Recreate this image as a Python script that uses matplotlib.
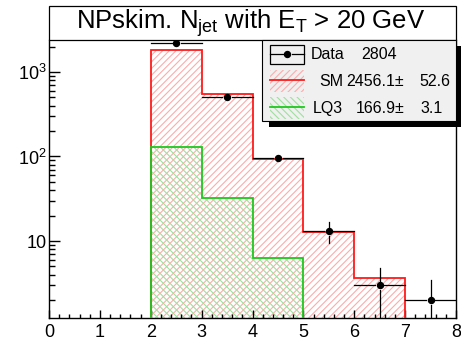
import numpy as np
import matplotlib
matplotlib.use("Agg")
import matplotlib.pyplot as plt
from matplotlib.patches import Rectangle
from matplotlib.ticker import FixedLocator, LogLocator, NullFormatter

plt.rcParams['font.family'] = 'Liberation Sans'
plt.rcParams['mathtext.fontset'] = 'custom'
plt.rcParams['mathtext.rm'] = 'Liberation Sans'
plt.rcParams['mathtext.it'] = 'Liberation Sans'
plt.rcParams['hatch.linewidth'] = 0.8

# data
edges = np.arange(0, 9)
data = np.array([0, 0, 2185, 506, 95, 13, 3, 2])
sm = np.array([0, 0, 1800, 545, 94, 12.8, 3.6, 0])
lq3 = np.array([0, 0, 128, 32.7, 6.3, 0, 0, 0])

data_total = 2804
sm_total, sm_err = 2456.1, 52.6
lq3_total, lq3_err = 166.9, 3.1

W, H = 461, 343
fig = plt.figure(figsize=(W / 100, H / 100), dpi=100)
fig.patch.set_facecolor('white')

def fx(x):
    return x / W
def fy(y):
    return 1 - y / H

ax = fig.add_axes([fx(49), fy(318), (456 - 49) / W, (318 - 40) / H])
ax.set_yscale('log')
ax.set_xlim(0, 8)
ax.set_ylim(1.227, 2391)

red, green = '#ff1a1a', '#1ec81e'
pink, lgreen = '#ffaaaa', '#9fe09f'
tiny = 1e-3

def hist_fill(vals, col, hatch):
    v = np.where(vals > 0, vals, tiny)
    ax.fill_between(edges, np.append(v, v[-1]), tiny, step='post',
                    facecolor='none', edgecolor=col, hatch=hatch, linewidth=0, zorder=1)

def hist_line(vals, col):
    v = np.where(vals > 0, vals, tiny)
    ax.stairs(v, edges, baseline=tiny, color=col, lw=1.3, zorder=3)

hist_fill(sm, pink, '/////')
hist_fill(lq3, lgreen, '\\\\\\\\\\')
hist_line(sm, red)
hist_line(lq3, green)

# data points with gapped error bars
centers = (edges[:-1] + edges[1:]) / 2
gx, gy = 0.09, 1.13
for xc, yv in zip(centers, data):
    if yv <= 0:
        continue
    err = np.sqrt(yv)
    ax.plot([xc - 0.5, xc - gx], [yv, yv], color='black', lw=0.9, zorder=4)
    ax.plot([xc + gx, xc + 0.5], [yv, yv], color='black', lw=0.9, zorder=4)
    if yv + err > yv * gy:
        ax.plot([xc, xc], [yv * gy, yv + err], color='black', lw=0.9, zorder=4)
        ax.plot([xc, xc], [max(yv - err, tiny), yv / gy], color='black', lw=0.9, zorder=4)
ax.plot(centers[data > 0], data[data > 0], 'o', color='black', ms=4.3, zorder=5)

# axes styling (ROOT look)
for s in ax.spines.values():
    s.set_linewidth(1.0)
ax.spines['top'].set_visible(False)
ax.xaxis.set_major_locator(FixedLocator(range(0, 9)))
ax.xaxis.set_minor_locator(FixedLocator(np.arange(0, 8.01, 0.2)))
ax.yaxis.set_major_locator(FixedLocator([10, 100, 1000]))
ax.yaxis.set_minor_locator(LogLocator(base=10, subs=np.arange(2, 10)))
ax.yaxis.set_minor_formatter(NullFormatter())
ax.set_yticklabels(['10', '$10^{2}$', '$10^{3}$'])
ax.tick_params(axis='x', which='major', direction='in', length=5.8, width=1, labelsize=13, pad=4)
ax.tick_params(axis='x', which='minor', direction='in', length=2.9, width=1)
ax.tick_params(axis='y', which='major', direction='in', length=8, width=1, labelsize=13, pad=1.5)
ax.tick_params(axis='y', which='minor', direction='in', length=4.3, width=1)

# title box
fig.patches.append(Rectangle((fx(49), fy(39.5)), (456 - 49) / W, (39.5 - 6) / H,
                             transform=fig.transFigure, facecolor='white',
                             edgecolor='black', lw=0.9, zorder=10))
fig.text(fx(251), fy(23), r'NPskim. N$_{\rm jet}$ with E$_{\rm T}$ > 20 GeV',
         ha='center', va='center', fontsize=18.5, zorder=11)

# legend box with shadow
lx0, lx1, ly0, ly1 = 262, 456, 40, 121
fig.patches.append(Rectangle((fx(lx0 + 7), fy(ly1 + 6)), (lx1 - lx0) / W, (ly1 - ly0) / H,
                             transform=fig.transFigure, facecolor='black',
                             edgecolor='none', zorder=12))
fig.patches.append(Rectangle((fx(lx0), fy(ly1)), (lx1 - lx0) / W, (ly1 - ly0) / H,
                             transform=fig.transFigure, facecolor='#f0f0f0',
                             edgecolor='black', lw=0.8, zorder=13))

sx0, sx1 = 270, 304
rows = [54, 81, 108]
# Data entry
fig.patches.append(Rectangle((fx(sx0), fy(rows[0] + 9.5)), (sx1 - sx0) / W, 19 / H,
                             transform=fig.transFigure, facecolor='none',
                             edgecolor='black', lw=0.9, zorder=14))
mid = (sx0 + sx1) / 2
fig.add_artist(plt.Line2D([fx(sx0), fx(mid - 4.5)], [fy(rows[0])] * 2, color='black', lw=0.9, zorder=14))
fig.add_artist(plt.Line2D([fx(mid + 4.5), fx(sx1)], [fy(rows[0])] * 2, color='black', lw=0.9, zorder=14))
fig.add_artist(plt.Line2D([fx(mid)], [fy(rows[0])], marker='o', color='black', ms=4.3, zorder=15))
# SM / LQ3 entries
for r, hc, lc, hatch in [(rows[1], pink, red, '/////'), (rows[2], lgreen, green, '\\\\\\\\\\')]:
    fig.patches.append(Rectangle((fx(sx0), fy(r + 11)), (sx1 - sx0) / W, 22 / H,
                                 transform=fig.transFigure, facecolor='none',
                                 edgecolor=hc, hatch=hatch, lw=0, zorder=14))
    fig.add_artist(plt.Line2D([fx(sx0), fx(sx1)], [fy(r - 1)] * 2, color=lc, lw=1.3, zorder=15))

fs = 11.5
items = [
    (rows[0], [('Data', 311, 'left'), ('%d' % data_total, 397, 'right')]),
    (rows[1], [('SM', 319, 'left'), ('%.1f\u00b1' % sm_total, 404, 'right'), ('%.1f' % sm_err, 450, 'right')]),
    (rows[2], [('LQ3', 313, 'left'), ('%.1f\u00b1' % lq3_total, 404, 'right'), ('%.1f' % lq3_err, 443, 'right')]),
]
for r, parts in items:
    for txt, x, ha in parts:
        fig.text(fx(x), fy(r + 0.5), txt, ha=ha, va='center', fontsize=fs, zorder=16)

fig.savefig('out.png', dpi=100)
